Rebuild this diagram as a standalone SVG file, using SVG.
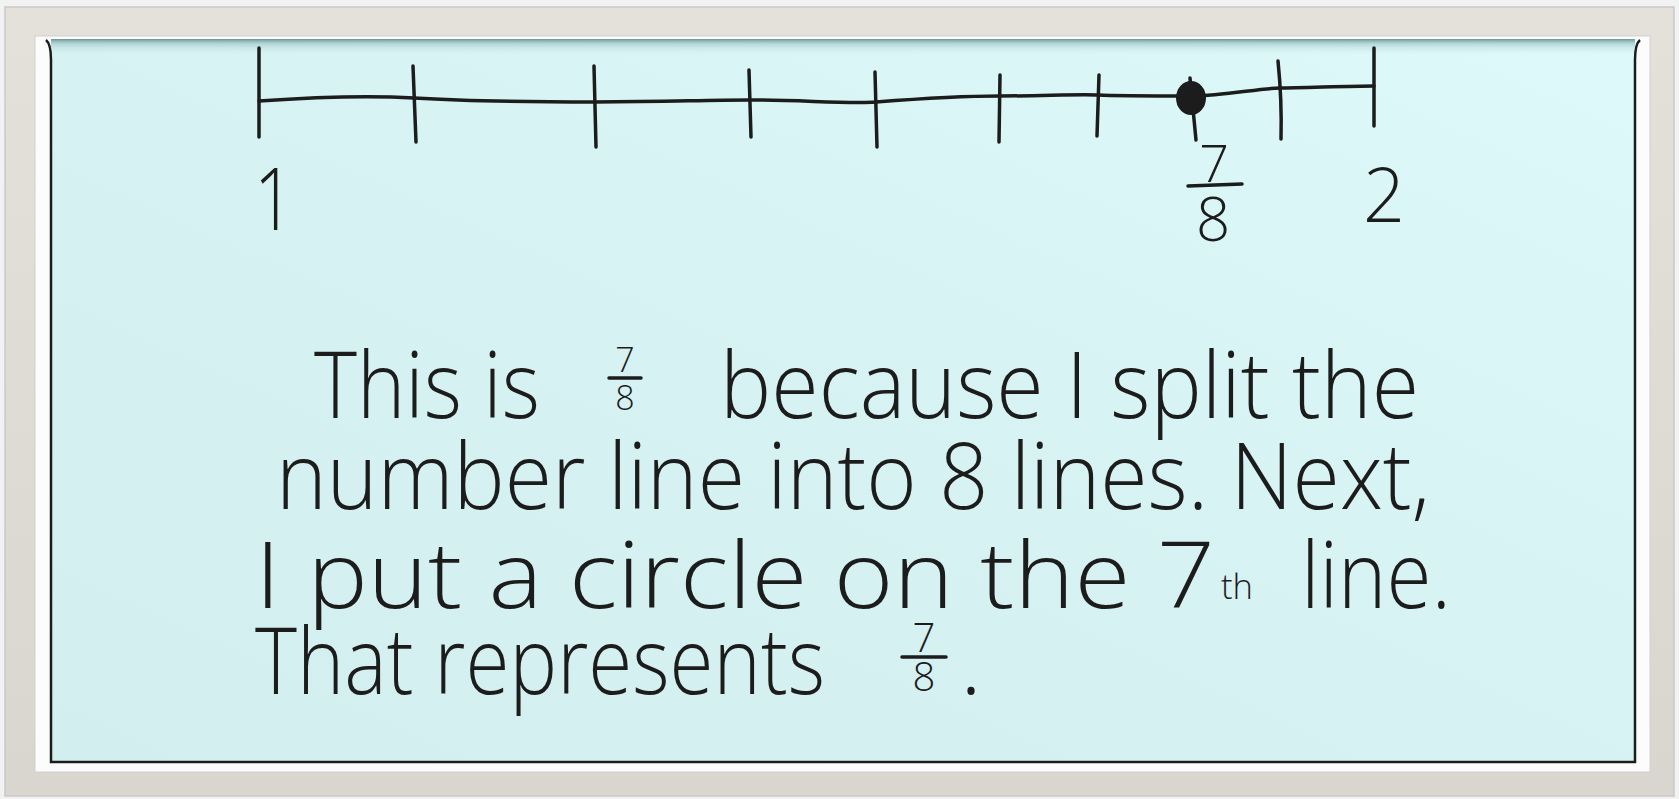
<svg xmlns="http://www.w3.org/2000/svg" width="1679" height="799" viewBox="0 0 1679 799">
<defs>
<linearGradient id="bg" x1="0" y1="0" x2="0" y2="1">
<stop offset="0" stop-color="#e4e1da"/>
<stop offset="1" stop-color="#d9d6cf"/>
</linearGradient>
<linearGradient id="panel" x1="0" y1="1" x2="1" y2="0">
<stop offset="0" stop-color="#d2eeee"/>
<stop offset="0.5" stop-color="#d6f2f2"/>
<stop offset="1" stop-color="#ddf9f9"/>
</linearGradient>
<linearGradient id="topshade" x1="0" y1="0" x2="0" y2="1">
<stop offset="0" stop-color="#5f8c8c" stop-opacity="0.9"/>
<stop offset="0.3" stop-color="#8fb8b8" stop-opacity="0.5"/>
<stop offset="1" stop-color="#d6f2f2" stop-opacity="0"/>
</linearGradient>
<style>
.ink{stroke:#1c1c1c;stroke-width:3.5;fill:none;stroke-linecap:round;stroke-linejoin:round}
.hw{font-family:"Open Sans","Liberation Sans",sans-serif;font-weight:300;fill:#1c1c1c}
</style>
</defs>
<rect x="0" y="0" width="1679" height="799" fill="#f2f2f2"/>
<rect x="5" y="7" width="1669" height="789" fill="url(#bg)" stroke="#c9c9c9" stroke-width="1.5"/>
<rect x="35" y="36" width="1615" height="736" fill="#fcfcfc" stroke="#d0d0d0" stroke-width="1"/>
<rect x="51" y="39" width="1584" height="723" fill="url(#panel)"/>
<rect x="51" y="39" width="1584" height="16" fill="url(#topshade)"/>
<path d="M46,40 Q51,44 51,60 L51,762 L1635,762 L1635,60 Q1635,44 1640,40" stroke="#1c1c1c" stroke-width="2.5" fill="none"/>

<g id="number-line">
<path class="ink" d="M259,101 C330,96 380,96 414,98 S520,102 595,102 S700,100 750,100 S850,104 876,102 S960,96 1000,96 S1080,94 1098,95 S1160,96 1192,96 S1260,88 1280,88 S1350,86 1374,86"/>
<path class="ink" d="M259,48 L259,137"/>
<path class="ink" d="M413,66 L416,142"/>
<path class="ink" d="M594,66 L596,147"/>
<path class="ink" d="M749,70 L751,137"/>
<path class="ink" d="M875,72 L877,147"/>
<path class="ink" d="M1000,75 L999,142"/>
<path class="ink" d="M1099,75 L1097,136"/>
<path class="ink" d="M1190,78 L1196,140"/>
<path class="ink" d="M1278,61 Q1282,100 1281,139"/>
<path class="ink" d="M1374,48 L1374,126"/>
<ellipse cx="1191" cy="98" rx="15" ry="17" fill="#1c1c1c"/>
<text class="hw" x="254" y="230" font-size="86" textLength="40" lengthAdjust="spacingAndGlyphs">1</text>
<text class="hw" x="1363" y="222" font-size="76" textLength="42" lengthAdjust="spacingAndGlyphs">2</text>
<text class="hw" x="1214" y="182" font-size="52" text-anchor="middle">7</text>
<path class="ink" d="M1188,186 L1242,184"/>
<text class="hw" x="1213" y="241" font-size="60" text-anchor="middle">8</text>
</g>

<g id="explanation">
<text class="hw" x="314" y="418" font-size="92" textLength="226" lengthAdjust="spacingAndGlyphs">This is</text>
<text class="hw" x="625" y="372" font-size="34" text-anchor="middle">7</text>
<path class="ink" d="M609,378 L641,378" stroke-width="2.5"/>
<text class="hw" x="625" y="410" font-size="34" text-anchor="middle">8</text>
<text class="hw" x="720" y="418" font-size="92" textLength="699" lengthAdjust="spacingAndGlyphs">because I split the</text>
<text class="hw" x="276" y="509" font-size="92" textLength="1154" lengthAdjust="spacingAndGlyphs">number line into 8 lines. Next,</text>
<text class="hw" x="255" y="608" font-size="92" textLength="960" lengthAdjust="spacingAndGlyphs">I put a circle on the 7</text>
<text class="hw" x="1221" y="599" font-size="34" textLength="32" lengthAdjust="spacingAndGlyphs">th</text>
<text class="hw" x="1301" y="608" font-size="92" textLength="150" lengthAdjust="spacingAndGlyphs">line.</text>
<text class="hw" x="255" y="694" font-size="92" textLength="570" lengthAdjust="spacingAndGlyphs">That represents</text>
<text class="hw" x="924" y="652" font-size="40" text-anchor="middle">7</text>
<path class="ink" d="M902,657 L946,657" stroke-width="2.5"/>
<text class="hw" x="924" y="691" font-size="40" text-anchor="middle">8</text>
<text class="hw" x="960" y="694" font-size="92">.</text>
</g>
</svg>
